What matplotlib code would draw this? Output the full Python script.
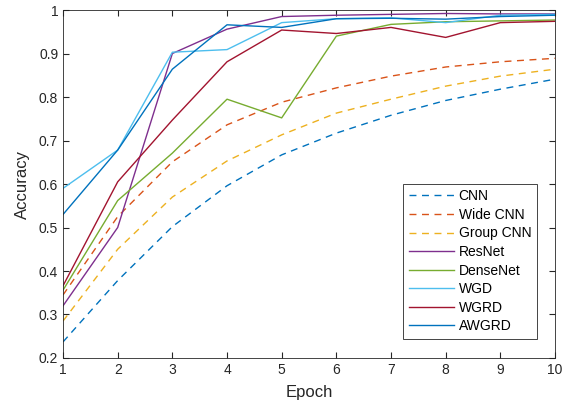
import numpy as np
import matplotlib
matplotlib.use("Agg")
import matplotlib.pyplot as plt

plt.rcParams['font.family'] = ['Liberation Sans', 'DejaVu Sans']

epochs = [1, 2, 3, 4, 5, 6, 7, 8, 9, 10]

cnn = [0.237, 0.378, 0.502, 0.596, 0.667, 0.717, 0.758, 0.792, 0.818, 0.841]
wide_cnn = [0.345, 0.525, 0.651, 0.736, 0.788, 0.821, 0.848, 0.869, 0.881, 0.889]
group_cnn = [0.285, 0.450, 0.570, 0.653, 0.713, 0.763, 0.795, 0.825, 0.848, 0.864]
resnet = [0.320, 0.500, 0.900, 0.956, 0.985, 0.988, 0.990, 0.992, 0.991, 0.991]
densenet = [0.356, 0.562, 0.671, 0.795, 0.752, 0.940, 0.967, 0.973, 0.975, 0.977]
wgd = [0.590, 0.678, 0.903, 0.909, 0.971, 0.980, 0.982, 0.971, 0.988, 0.990]
wgrd = [0.366, 0.605, 0.747, 0.881, 0.954, 0.946, 0.960, 0.937, 0.971, 0.974]
awgrd = [0.530, 0.678, 0.864, 0.966, 0.960, 0.980, 0.981, 0.979, 0.985, 0.988]

# matlab default colours
c_blue = (0, 0.447, 0.741)
c_orange = (0.850, 0.325, 0.098)
c_yellow = (0.929, 0.694, 0.125)
c_purple = (0.494, 0.184, 0.556)
c_green = (0.466, 0.674, 0.188)
c_cyan = (0.301, 0.745, 0.933)
c_red = (0.635, 0.078, 0.184)

fig = plt.figure(figsize=(5.73, 4.07), dpi=100)
ax = fig.add_axes([0.110, 0.1204, 0.8586, 0.855])

lw = 1.0
ax.plot(epochs, cnn, '--', color=c_blue, lw=lw, dashes=(5, 4), label='CNN')
ax.plot(epochs, wide_cnn, '--', color=c_orange, lw=lw, dashes=(5, 4), label='Wide CNN')
ax.plot(epochs, group_cnn, '--', color=c_yellow, lw=lw, dashes=(5, 4), label='Group CNN')
ax.plot(epochs, resnet, '-', color=c_purple, lw=lw, label='ResNet')
ax.plot(epochs, densenet, '-', color=c_green, lw=lw, label='DenseNet')
ax.plot(epochs, wgd, '-', color=c_cyan, lw=lw, label='WGD')
ax.plot(epochs, wgrd, '-', color=c_red, lw=lw, label='WGRD')
ax.plot(epochs, awgrd, '-', color=c_blue, lw=lw, label='AWGRD')

ax.set_xlim(1, 10)
ax.set_ylim(0.2, 1)
ax.set_xticks(epochs)
ax.set_yticks(np.arange(0.2, 1.01, 0.1))
ax.set_yticklabels(['0.2', '0.3', '0.4', '0.5', '0.6', '0.7', '0.8', '0.9', '1'])
ax.tick_params(direction='in', top=True, right=True, labelsize=10, length=4, color='#262626', labelcolor='#262626')
for s in ax.spines.values():
    s.set_color('#262626')
    s.set_linewidth(0.6)
ax.set_xlabel('Epoch', fontsize=12, color='#262626', labelpad=6)
ax.set_ylabel('Accuracy', fontsize=12, color='#262626', labelpad=6)

leg = ax.legend(loc='lower right', bbox_to_anchor=(0.963, 0.055), borderaxespad=0, fontsize=10,
                fancybox=False, framealpha=1, edgecolor='#262626', handlelength=3.3,
                handletextpad=0.3, labelspacing=0.33, borderpad=0.4)
leg.get_frame().set_linewidth(0.6)

fig.savefig('out.png', dpi=100)
